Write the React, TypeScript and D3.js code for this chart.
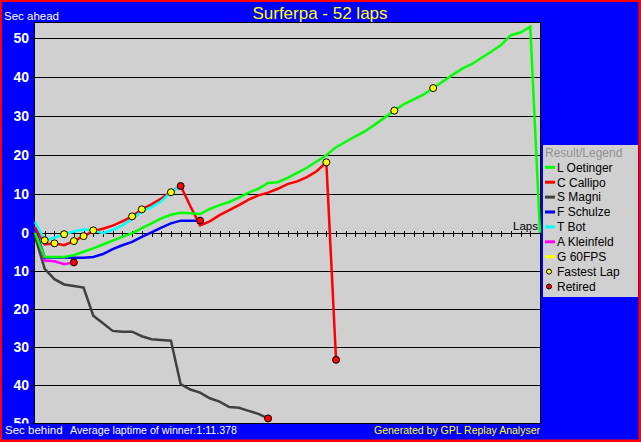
import * as d3 from 'd3';

const WIDTH = 641;
const HEIGHT = 442;
const FONT = '"Liberation Sans", Arial, sans-serif';

// drivers shown in the legend, in legend order
const drivers = ['L Oetinger', 'C Callipo', 'S Magni', 'F Schulze', 'T Bot', 'A Kleinfeld', 'G 60FPS'];
const driverColors = ['#00ff00', '#ff0000', '#404040', '#0000ff', '#00ffff', '#ff00ff', '#ffff00'];

// seconds ahead (+) / behind (-) per lap, starting at lap 0
const oetinger = [
  0.0, -6.4, -6.4, -6.4, -5.9, -5.0, -4.1, -3.1, -2.1, -1.1, -0.1, 1.2, 2.4, 3.7, 4.6, 5.1, 5.0, 4.8,
  6.1, 7.1, 7.9, 9.0, 10.3, 11.3, 12.8, 13.0, 14.1, 15.4, 16.7, 18.3, 19.9, 22.0, 23.4, 24.8, 26.1,
  27.8, 29.6, 31.4, 33.1, 34.3, 35.5, 37.2, 38.9, 40.6, 42.2, 43.4, 45.0, 46.6, 48.3, 50.8, 51.5,
  53.0, 0.0,
];
const callipo = [
  1.5, -3.1, -2.8, -3.3, -2.2, -0.9, 0.4, 1.0, 1.8, 2.9, 4.2, 6.0, 7.3, 8.8, 10.5, 12.0, 6.8, 1.9,
  2.9, 4.5, 5.8, 7.1, 8.5, 9.6, 10.3, 11.3, 12.5, 13.2, 14.3, 15.8, 18.1, -33.4,
];
const magni = [
  -1.0, -9.5, -12.2, -13.6, -14.0, -14.4, -21.8, -23.8, -25.8, -26.0, -26.0, -27.2, -28.0, -28.2,
  -28.4, -39.8, -41.2, -42.0, -43.5, -44.4, -45.8, -46.0, -46.8, -47.6, -48.8,
];
const schulze = [
  1.0, -6.5, -6.5, -6.5, -6.6, -6.6, -6.4, -5.6, -4.3, -3.3, -2.4, -1.1, 0.1, 1.3, 2.4, 3.1, 3.1, 3.1,
];
const bot = [2.8, -2.0, -1.3, -0.4, 0.3, 0.8, 0.6, -0.1, 0.7, 1.9, 3.5, 5.5, 6.6, 8.1, 10.4, 12.0];
const kleinfeld = [0.5, -7.3, -7.5, -8.3, -7.8];
const sixtyFps: number[] = [];

const series = [oetinger, callipo, magni, schulze, bot, kleinfeld, sixtyFps];
const retired = [false, true, true, true, true, true, false];
const drawOrder = [2, 5, 3, 1, 4, 0];

// fastest lap markers: which driver, which lap
const fastestDriver = [4, 1, 4, 1, 1, 4, 1, 1, 4, 1, 0, 0];
const fastestLap = [1, 2, 3, 4, 5, 6, 10, 11, 14, 30, 37, 41];

const yTicks = [-50, -40, -30, -20, -10, 0, 10, 20, 30, 40, 50];
const totalLaps = 52;

const plot = { left: 35, right: 540, top: 22, bottom: 423 };

const App = () => {
  const x = d3.scaleLinear().domain([0, totalLaps]).range([plot.left, plot.right]);
  const y = d3.scaleLinear().domain([-50, 0, 50]).range([423, 232.7, 38.3]);
  const line = d3
    .line<number>()
    .x((_, i) => x(i))
    .y(d => y(d));
  const lapTicks = d3.range(1, totalLaps + 1);
  const y0 = Math.round(y(0)) + 0.5;

  return (
    <svg
      width={WIDTH}
      height={HEIGHT}
      style={{ position: 'absolute', left: 0, top: 0, display: 'block' }}
      fontFamily={FONT}
    >
      <defs>
        <clipPath id="labelClip">
          <rect x={0} y={0} width={plot.left} height={plot.bottom + 0.5} />
        </clipPath>
      </defs>
      <rect x={0} y={0} width={WIDTH} height={HEIGHT} fill="#ff0000" />
      <rect x={2} y={2} width={WIDTH - 4.5} height={HEIGHT - 4.5} fill="#0000ff" />

      <text x={320} y={19} fill="#ffff00" fontSize={17} textAnchor="middle">
        Surferpa - 52 laps
      </text>
      <text x={4} y={20} fill="#ffffff" fontSize={11.5}>
        Sec ahead
      </text>

      <rect
        x={plot.left - 0.5}
        y={plot.top + 0.5}
        width={plot.right - plot.left + 1}
        height={plot.bottom - plot.top}
        fill="#d0d0d0"
        stroke="#000"
        shapeRendering="crispEdges"
      />

      {yTicks
        .filter(t => t !== 0)
        .map(t => (
          <line
            key={'g' + t}
            x1={plot.left}
            x2={plot.right}
            y1={Math.round(y(t)) + 0.5}
            y2={Math.round(y(t)) + 0.5}
            stroke="#000"
            shapeRendering="crispEdges"
          />
        ))}
      <g clipPath="url(#labelClip)">
        {yTicks.map(t => (
          <g key={'t' + t}>
            <line
              x1={31}
              x2={plot.left}
              y1={Math.round(y(t)) + 0.5}
              y2={Math.round(y(t)) + 0.5}
              stroke="#000"
              shapeRendering="crispEdges"
            />
            <text
              x={29}
              y={y(t)}
              dy="0.36em"
              fill="#ffffff"
              fontSize={14}
              fontWeight="bold"
              textAnchor="end"
            >
              {Math.abs(t)}
            </text>
          </g>
        ))}
      </g>

      <line x1={plot.left} x2={plot.right} y1={y0} y2={y0} stroke="#000" shapeRendering="crispEdges" />
      {lapTicks.map(l => (
        <line
          key={'l' + l}
          x1={Math.round(x(l)) + 0.5}
          x2={Math.round(x(l)) + 0.5}
          y1={y0 - 3}
          y2={y0 + 3}
          stroke="#000"
          shapeRendering="crispEdges"
        />
      ))}
      <text x={538} y={230} fontSize={11.5} textAnchor="end" fill="#000">
        Laps
      </text>

      {drawOrder.map(i => (
        <path key={drivers[i]} d={line(series[i]) ?? ''} fill="none" stroke={driverColors[i]} strokeWidth={2.5} />
      ))}

      {fastestLap.map((lap, k) => (
        <circle
          key={'f' + k}
          cx={x(lap)}
          cy={y(series[fastestDriver[k]][lap])}
          r={3.5}
          fill="#ffff00"
          stroke="#000"
        />
      ))}
      {series.map((s, i) =>
        retired[i] ? (
          <circle key={'r' + i} cx={x(s.length - 1)} cy={y(s[s.length - 1])} r={3.5} fill="#ff0000" stroke="#000" />
        ) : null
      )}

      <line
        x1={plot.left - 0.5}
        x2={plot.right + 0.5}
        y1={plot.bottom + 0.5}
        y2={plot.bottom + 0.5}
        stroke="#000"
        shapeRendering="crispEdges"
      />
      <text x={5} y={434} fill="#ffffff" fontSize={11.5}>
        Sec behind
      </text>
      <text x={70} y={434} fill="#ffffff" fontSize={11.5} textLength={167} lengthAdjust="spacingAndGlyphs">
        Average laptime of winner:1:11.378
      </text>
      <text x={374} y={434} fill="#ffff00" fontSize={11.5} textLength={166} lengthAdjust="spacingAndGlyphs">
        Generated by GPL Replay Analyser
      </text>

      <g>
        <rect x={543} y={145} width={95} height={152} fill="#d0d0d0" />
        <text x={545} y={157} fill="#909090" fontSize={12}>
          Result/Legend
        </text>
        {drivers.map((d, i) => (
          <g key={d} transform={`translate(0,${167.3 + i * 14.9})`}>
            <line x1={545} x2={555} y1={0} y2={0} stroke={driverColors[i]} strokeWidth={3} />
            <text x={557} y={0} dy="0.36em" fontSize={12} fill="#000">
              {d}
            </text>
          </g>
        ))}
        <g transform={`translate(0,${167.3 + 7 * 14.9})`}>
          <circle cx={549} cy={0} r={2.5} fill="#ffff00" stroke="#000" />
          <text x={557} y={0} dy="0.36em" fontSize={12} fill="#000">
            Fastest Lap
          </text>
        </g>
        <g transform={`translate(0,${167.3 + 8 * 14.9})`}>
          <circle cx={549} cy={0} r={2.5} fill="#ff0000" stroke="#000" />
          <text x={557} y={0} dy="0.36em" fontSize={12} fill="#000">
            Retired
          </text>
        </g>
      </g>
    </svg>
  );
};

export default App;
